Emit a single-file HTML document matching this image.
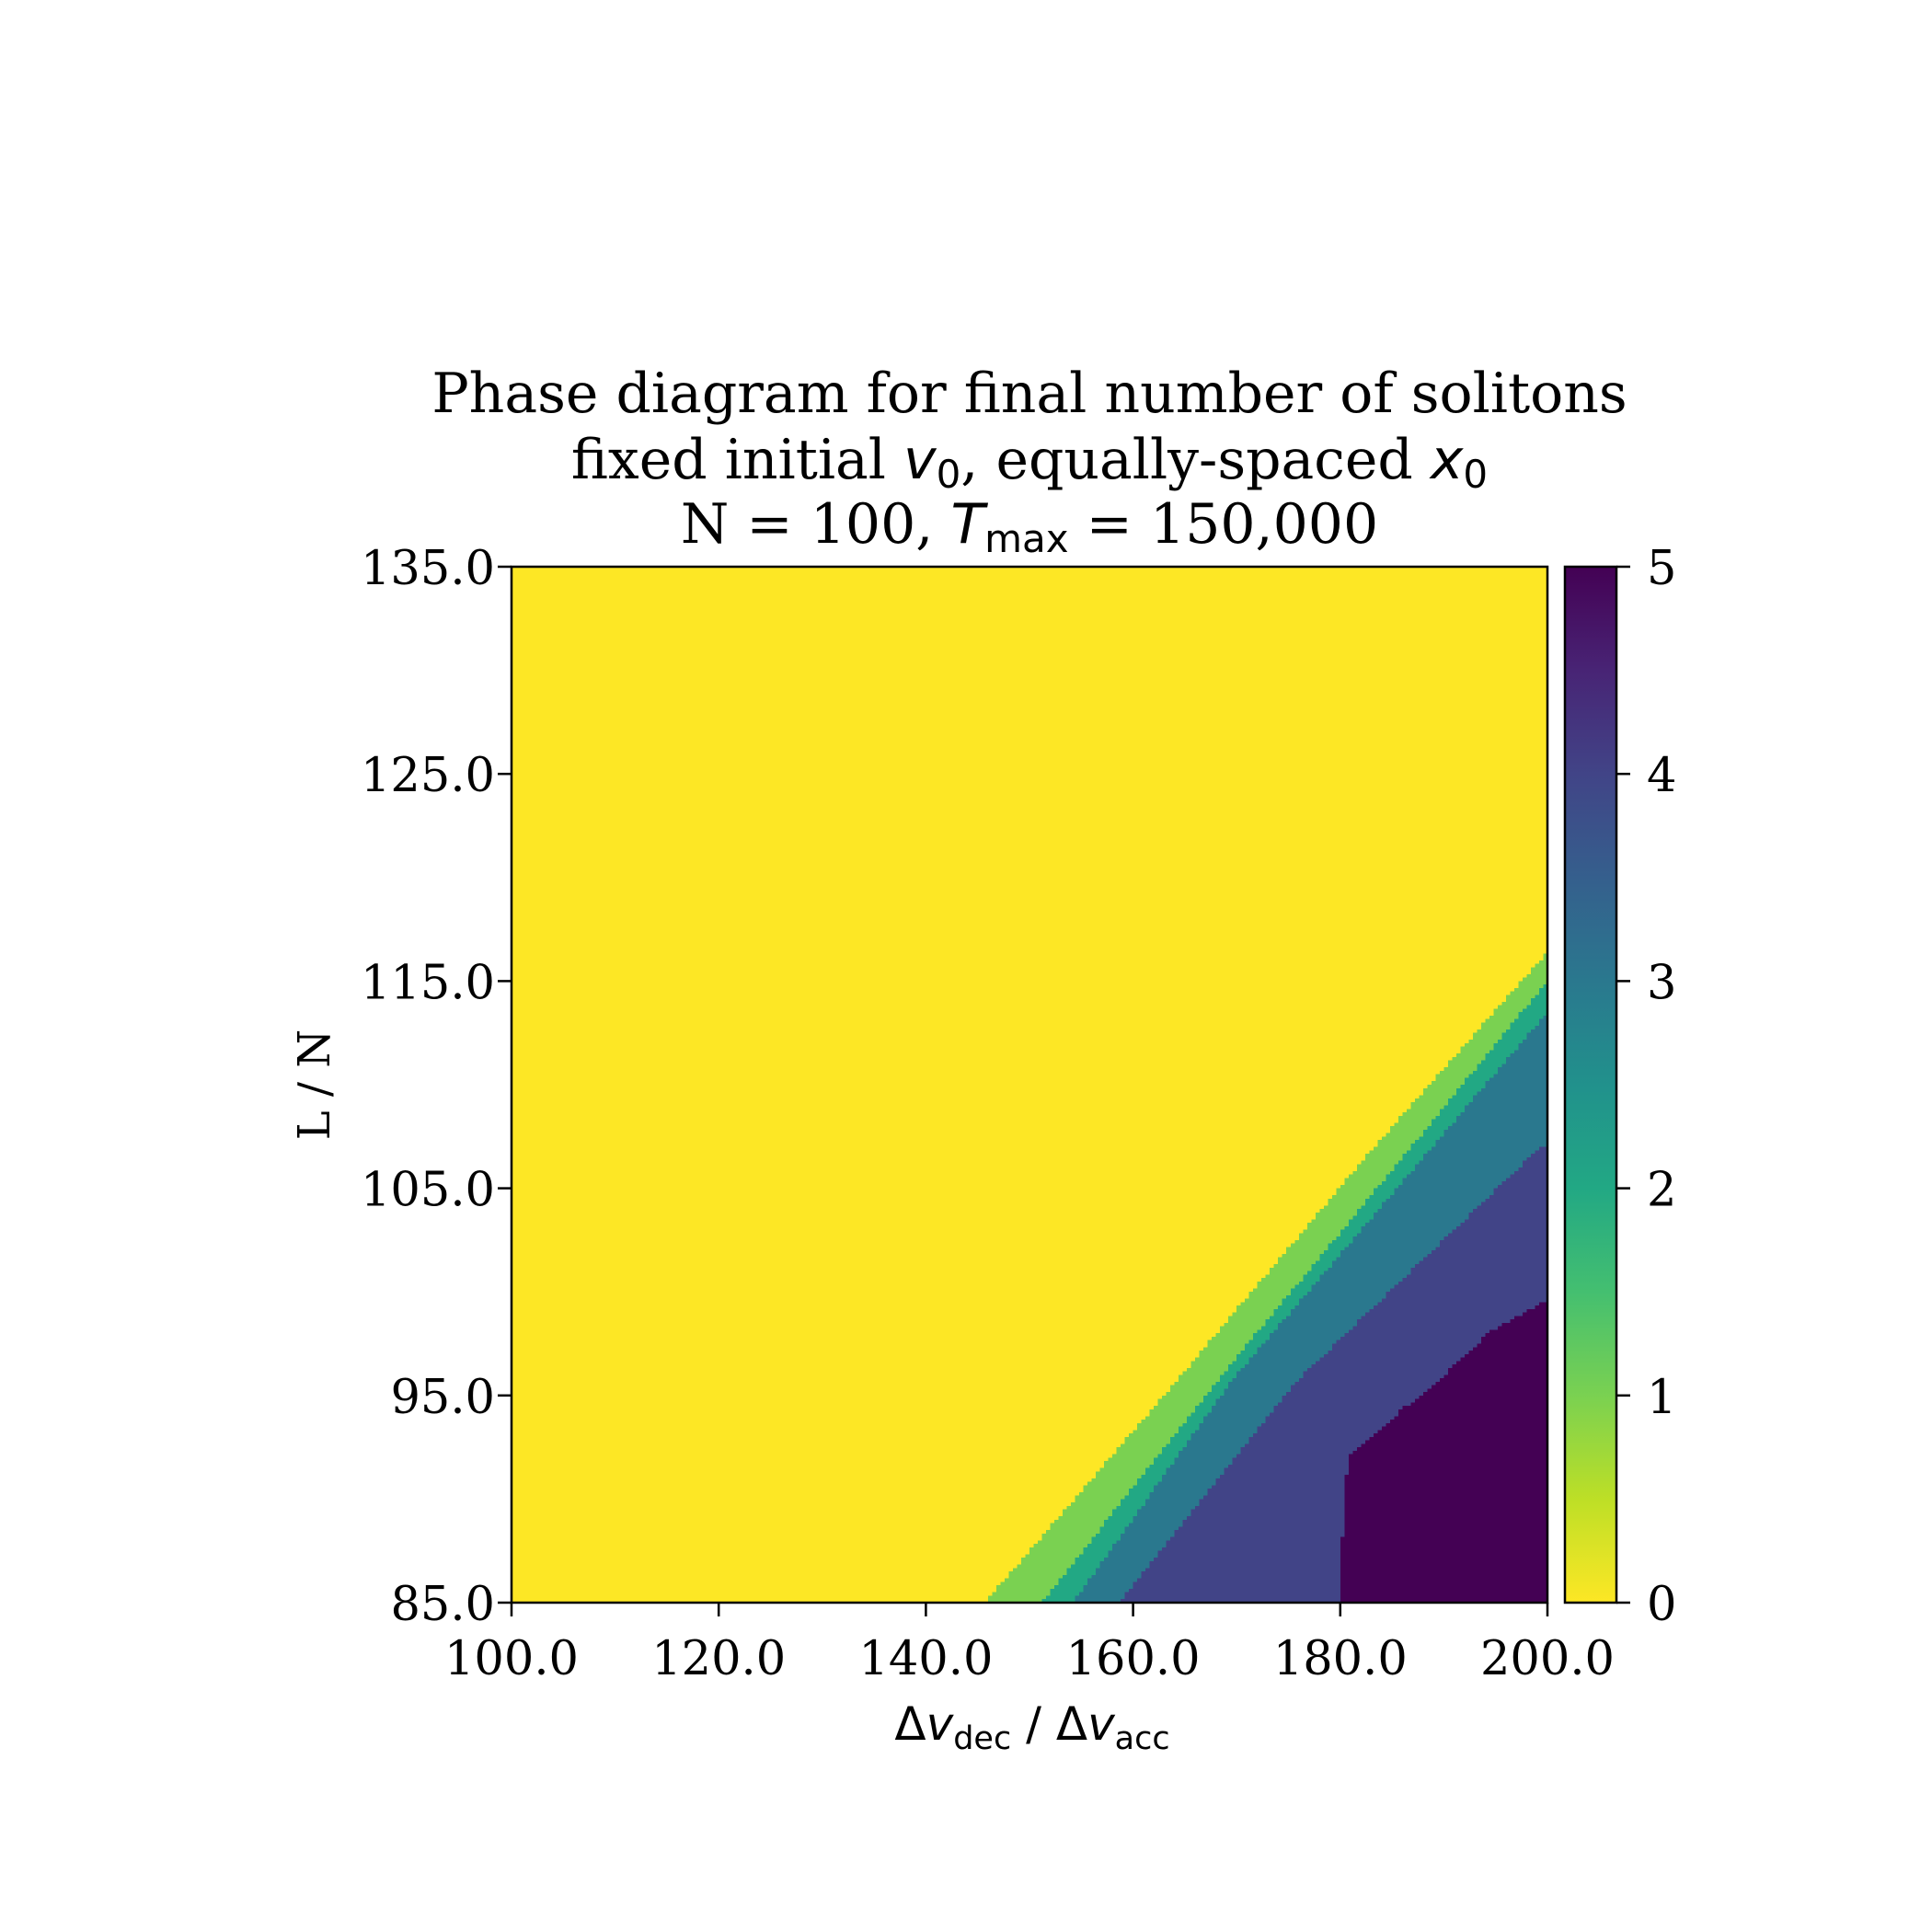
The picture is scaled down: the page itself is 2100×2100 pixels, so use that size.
<!DOCTYPE html>
<html><head><meta charset="utf-8">
<style>
html,body{margin:0;padding:0;background:#fff;}
#wrap{position:relative;width:2100px;height:2100px;overflow:hidden;}
svg{position:absolute;left:0;top:0;}
canvas{position:absolute;image-rendering:pixelated;}
</style></head>
<body>
<div id="wrap">
<canvas id="heat" width="250" height="300" style="left:556px;top:616px;width:1126px;height:1126px;"></canvas>
<svg id="svg" width="2100" height="2100" xmlns="http://www.w3.org/2000/svg">
  <defs>
    <linearGradient id="vir" x1="0" y1="1" x2="0" y2="0">
      <stop offset="0" stop-color="#fde725"/>
      <stop offset="0.1" stop-color="#bddf26"/>
      <stop offset="0.2" stop-color="#7ad151"/>
      <stop offset="0.3" stop-color="#44bf70"/>
      <stop offset="0.4" stop-color="#22a884"/>
      <stop offset="0.5" stop-color="#21918c"/>
      <stop offset="0.6" stop-color="#2a788e"/>
      <stop offset="0.7" stop-color="#355f8d"/>
      <stop offset="0.8" stop-color="#414487"/>
      <stop offset="0.9" stop-color="#482475"/>
      <stop offset="1" stop-color="#440154"/>
    </linearGradient>
  </defs>
  <g font-family="'DejaVu Serif','Liberation Serif',serif" font-size="60" text-anchor="middle" fill="#000">
    <text x="1119" y="448">Phase diagram for final number of solitons</text>
    <text x="1119" y="520">fixed initial <tspan font-family="'DejaVu Sans',sans-serif" font-style="italic">v</tspan><tspan font-family="'DejaVu Sans',sans-serif" font-size="42" dy="10">0</tspan><tspan dy="-10">, equally-spaced </tspan><tspan font-family="'DejaVu Sans',sans-serif" font-style="italic">x</tspan><tspan font-family="'DejaVu Sans',sans-serif" font-size="42" dy="10">0</tspan></text>
    <text x="1119" y="590">N = 100, <tspan font-family="'DejaVu Sans',sans-serif" font-style="italic">T</tspan><tspan font-family="'DejaVu Sans',sans-serif" font-size="42" dy="10">max</tspan><tspan dy="-10"> = 150,000</tspan></text>
  </g>
  <rect x="556" y="616" width="1126" height="1126" fill="none" stroke="#000" stroke-width="2.5"/>
  <g id="xticks"></g>
  <g id="yticks"></g>
  <text x="1122" y="1891" font-family="'DejaVu Sans',sans-serif" font-size="50" text-anchor="middle">Δ<tspan font-style="italic">v</tspan><tspan font-size="35" dy="10">dec</tspan><tspan dy="-10"> / Δ</tspan><tspan font-style="italic">v</tspan><tspan font-size="35" dy="10">acc</tspan></text>
  <text transform="translate(358,1179) rotate(-90)" font-family="'DejaVu Serif','Liberation Serif',serif" font-size="48" text-anchor="middle">L / N</text>
  <rect x="1701" y="616" width="56" height="1126" fill="url(#vir)" stroke="#000" stroke-width="2.5"/>
  <g id="cticks"></g>
</svg>
</div>
<script>
// axis ranges
const xDomain = [100, 200];
const yDomain = [85, 135];
const xTickVals = [100, 120, 140, 160, 180, 200];
const xTickLabels = ["100.0", "120.0", "140.0", "160.0", "180.0", "200.0"];
const yTickVals = [85, 95, 105, 115, 125, 135];
const yTickLabels = ["85.0", "95.0", "105.0", "115.0", "125.0", "135.0"];
const cTickVals = [0, 1, 2, 3, 4, 5];
const levelColors = ["#fde725", "#7ad151", "#22a884", "#2a788e", "#414487", "#440154"];
// phase boundaries: x positions and L/N values
const b1x = [145.7, 164.3, 183.0, 200];
const b1y = [85, 95.75, 106.85, 116.4];
const b2x = [151.2, 168.2, 186.6, 200];
const b2y = [85, 95.75, 106.85, 115.0];
const b3x = [154.2, 169.6, 188.6, 200];
const b3y = [85, 95.75, 106.85, 113.5];
const b4x = [158.6, 175.9, 199.0, 200];
const b4y = [85, 95.75, 106.85, 107.1];
const b5x = [179.8, 180.7, 185.9, 189.5, 194.3, 200];
const b5y = [85, 92.0, 94.3, 95.75, 98.0, 99.6];
const boundaries = [[b1x, b1y], [b2x, b2y], [b3x, b3y], [b4x, b4y], [b5x, b5y]];

const PL = 556, PT = 616, PW = 1126, PH = 1126;
const xs = v => PL + (v - xDomain[0]) / (xDomain[1] - xDomain[0]) * PW;
const ys = v => PT + PH - (v - yDomain[0]) / (yDomain[1] - yDomain[0]) * PH;
const cs = v => PT + PH - v / 5 * PH;
const NS = "http://www.w3.org/2000/svg";

function thresh(bx, by, x) {
  if (x < bx[0]) return -Infinity;
  for (let i = 0; i < bx.length - 1; i++) {
    if (x <= bx[i + 1]) { const t = (x - bx[i]) / (bx[i + 1] - bx[i]); return by[i] + t * (by[i + 1] - by[i]); }
  }
  return by[by.length - 1];
}
function hex(c) { return [parseInt(c.substr(1, 2), 16), parseInt(c.substr(3, 2), 16), parseInt(c.substr(5, 2), 16)]; }

const cv = document.getElementById('heat');
const ctx = cv.getContext('2d');
const NC = cv.width, NR = cv.height;
const img = ctx.createImageData(NC, NR);
for (let c = 0; c < NC; c++) {
  const x = xDomain[0] + (c + 0.5) / NC * (xDomain[1] - xDomain[0]);
  const th = boundaries.map(b => thresh(b[0], b[1], x));
  for (let r = 0; r < NR; r++) {
    const y = yDomain[1] - (r + 0.5) / NR * (yDomain[1] - yDomain[0]);
    let lvl = 0;
    th.forEach(t => { if (y < t) lvl++; });
    const col = hex(levelColors[lvl]);
    const k = (r * NC + c) * 4;
    img.data[k] = col[0]; img.data[k + 1] = col[1]; img.data[k + 2] = col[2]; img.data[k + 3] = 255;
  }
}
ctx.putImageData(img, 0, 0);

const serif = "'DejaVu Serif','Liberation Serif',serif";
const gx = document.getElementById('xticks');
xTickVals.forEach((v, i) => {
  const l = document.createElementNS(NS, 'line');
  
  
  l.setAttribute('x1', xs(v)); l.setAttribute('x2', xs(v));
  l.setAttribute('y1', PT + PH); l.setAttribute('y2', PT + PH + 15);
  l.setAttribute('stroke', '#000'); l.setAttribute('stroke-width', '2.5');
  gx.appendChild(l);
  const t = document.createElementNS(NS, 'text');
  
  
  t.setAttribute('x', xs(v)); t.setAttribute('y', 1820);
  t.setAttribute('text-anchor', 'middle'); t.setAttribute('font-family', serif); t.setAttribute('font-size', '51');
  t.textContent = xTickLabels[i];
  gx.appendChild(t);
});
const gy = document.getElementById('yticks');
yTickVals.forEach((v, i) => {
  const l = document.createElementNS(NS, 'line');
  
  
  l.setAttribute('x1', PL - 15); l.setAttribute('x2', PL);
  l.setAttribute('y1', ys(v)); l.setAttribute('y2', ys(v));
  l.setAttribute('stroke', '#000'); l.setAttribute('stroke-width', '2.5');
  gy.appendChild(l);
  const t = document.createElementNS(NS, 'text');
  
  
  t.setAttribute('x', 538); t.setAttribute('y', ys(v) + 19);
  t.setAttribute('text-anchor', 'end'); t.setAttribute('font-family', serif); t.setAttribute('font-size', '51');
  t.textContent = yTickLabels[i];
  gy.appendChild(t);
});
const gc = document.getElementById('cticks');
cTickVals.forEach(v => {
  const l = document.createElementNS(NS, 'line');
  
  
  l.setAttribute('x1', 1757); l.setAttribute('x2', 1772);
  l.setAttribute('y1', cs(v)); l.setAttribute('y2', cs(v));
  l.setAttribute('stroke', '#000'); l.setAttribute('stroke-width', '2.5');
  gc.appendChild(l);
  const t = document.createElementNS(NS, 'text');
  
  
  t.setAttribute('x', 1790); t.setAttribute('y', cs(v) + 19);
  t.setAttribute('font-family', serif); t.setAttribute('font-size', '51');
  t.textContent = String(v);
  gc.appendChild(t);
});
</script>
</body></html>
